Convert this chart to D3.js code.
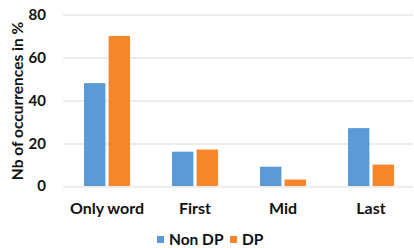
<!DOCTYPE html>
<html>
<head>
<meta charset="utf-8">
<script src="https://cdn.jsdelivr.net/npm/d3@7"></script>
<style>
  body { margin: 0; background: #fff; }
  text { font-family: Lato, "Open Sans", sans-serif; font-weight: bold; fill: #111; }
</style>
</head>
<body>
<div id="chart"></div>
<script>
// Data
let categories = ['Only word', 'First', 'Mid', 'Last'];
let seriesNames = ['Non DP', 'DP'];
let nonDP = [48, 16, 9, 27];
let dp = [70, 17, 3, 10];
let yTicks = [0, 20, 40, 60, 80];

let colors = ['#5B9BD5', '#F5862A'];

let svgWidth = 414;
let svgHeight = 248;

let margin = { top: 14.5, right: 0, bottom: 62, left: 63 };
let width = 415 - margin.left;
let height = 186 - margin.top;

let svg = d3.select('#chart')
  .append('svg')
  .attr('width', svgWidth)
  .attr('height', svgHeight);

let chartGroup = svg.append('g')
  .attr('transform', `translate(${margin.left}, ${margin.top})`);

// Scales
let x0 = d3.scaleBand()
  .domain(categories)
  .range([0, width]);

let x1 = d3.scaleBand()
  .domain(seriesNames)
  .range([x0.bandwidth() / 2 - 23, x0.bandwidth() / 2 + 23])
  .paddingInner(0.13);

let y = d3.scaleLinear()
  .domain([0, 80])
  .range([height, 0]);

// Gridlines
chartGroup.selectAll('.grid')
  .data(yTicks)
  .enter()
  .append('line')
  .attr('x1', 0)
  .attr('x2', width - 2)
  .attr('y1', d => Math.round(y(d)) + 0.5)
  .attr('y2', d => Math.round(y(d)) + 0.5)
  .attr('stroke', '#d9d9d9')
  .attr('stroke-width', 1);

// Y tick labels
chartGroup.selectAll('.ytick')
  .data(yTicks)
  .enter()
  .append('text')
  .attr('x', -17)
  .attr('y', d => y(d))
  .attr('dy', '0.36em')
  .attr('text-anchor', 'end')
  .attr('font-size', '15px')
  .text(d => d);

// Bars
let rows = categories.map((c, i) => ({ category: c, values: [nonDP[i], dp[i]] }));

let groups = chartGroup.selectAll('.group')
  .data(rows)
  .enter()
  .append('g')
  .attr('transform', d => `translate(${x0(d.category)}, 0)`);

groups.selectAll('rect')
  .data(d => d.values.map((v, j) => ({ name: seriesNames[j], value: v, j: j })))
  .enter()
  .append('rect')
  .attr('x', d => x1(d.name))
  .attr('width', x1.bandwidth())
  .attr('y', d => y(d.value))
  .attr('height', d => height - y(d.value))
  .attr('fill', d => colors[d.j]);

// Category labels
chartGroup.selectAll('.xlabel')
  .data(categories)
  .enter()
  .append('text')
  .attr('x', d => x0(d) + x0.bandwidth() / 2)
  .attr('y', height + 27.5)
  .attr('text-anchor', 'middle')
  .attr('font-size', '16px')
  .text(d => d);

// Y axis title
svg.append('text')
  .attr('transform', 'translate(23, 101) rotate(-90)')
  .attr('text-anchor', 'middle')
  .attr('font-size', '15.5px')
  .text('Nb of occurrences in %');

// Legend
let legendX = [157, 230];
let legend = svg.selectAll('.legend')
  .data(seriesNames)
  .enter()
  .append('g')
  .attr('transform', (d, i) => `translate(${legendX[i]}, 236)`);

legend.append('rect')
  .attr('width', 7)
  .attr('height', 7)
  .attr('fill', (d, i) => colors[i]);

legend.append('text')
  .attr('x', 12)
  .attr('y', 8.5)
  .attr('font-size', '15.5px')
  .text(d => d);
</script>
</body>
</html>
